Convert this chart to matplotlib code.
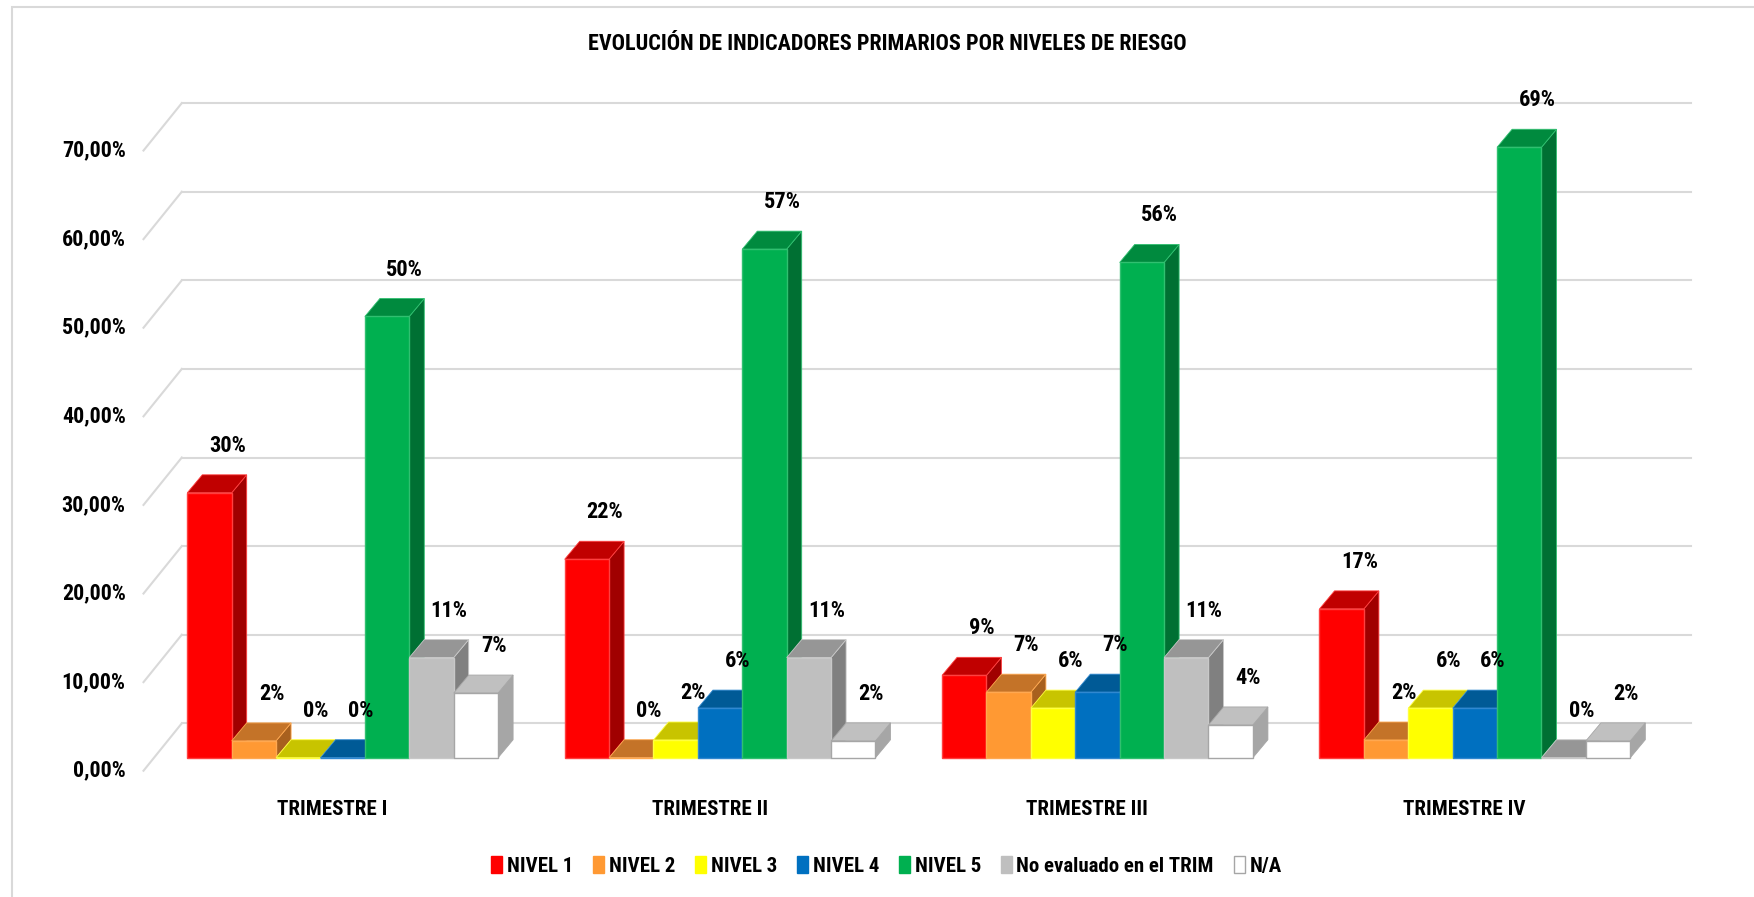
import matplotlib
matplotlib.use('Agg')
import matplotlib.pyplot as plt
from matplotlib.patches import Polygon, Patch, Rectangle
from matplotlib import font_manager

# chart data (percent)
categories = ['TRIMESTRE I', 'TRIMESTRE II', 'TRIMESTRE III', 'TRIMESTRE IV']
series = ['NIVEL 1', 'NIVEL 2', 'NIVEL 3', 'NIVEL 4', 'NIVEL 5',
          'No evaluado en el TRIM', 'N/A']
nivel_1     = [29.9, 22.4, 9.3, 16.8]
nivel_2     = [1.9, 0.0, 7.4, 2.0]
nivel_3     = [0.0, 2.0, 5.6, 5.6]
nivel_4     = [0.0, 5.6, 7.4, 5.6]
nivel_5     = [49.8, 57.4, 55.9, 68.9]
no_evaluado = [11.3, 11.3, 11.3, 0.0]
n_a         = [7.3, 1.9, 3.7, 1.9]
values = [nivel_1, nivel_2, nivel_3, nivel_4, nivel_5, no_evaluado, n_a]
y_ticks = [0, 10, 20, 30, 40, 50, 60, 70]
title = 'EVOLUCIÓN DE INDICADORES PRIMARIOS POR NIVELES DE RIESGO'

# (front, top, side, edge) per series
colors = [
    ('#FF0000', '#C00000', '#A00000', '#FF4040'),
    ('#FF9933', '#C47328', '#A8601E', '#FFA850'),
    ('#FFFF00', '#C8C400', '#A8A400', '#FFFF40'),
    ('#0070C0', '#005A96', '#004C80', '#3088D0'),
    ('#00B050', '#008A3E', '#007033', '#30C070'),
    ('#BFBFBF', '#969696', '#808080', '#C8C8C8'),
    ('#FFFFFF', '#C0C0C0', '#A6A6A6', '#A6A6A6'),
]
grid_color = '#D9D9D9'

# oblique "3D" geometry, in data units (x: bar widths, y: percent)
group_step = 8.5
bar_depth = (0.338, 2.03)
front_off = (-0.236, -1.47)
back_off = (0.626, 3.88)
wall_l, wall_r = -0.75, 33.25

# font: prefer a condensed family
names = {f.name for f in font_manager.fontManager.ttflist}
family = 'DejaVu Sans'
for cand in ['Liberation Sans Narrow', 'DejaVu Sans Condensed', 'Roboto Condensed',
             'Open Sans Condensed', 'Noto Sans Condensed', 'Liberation Sans']:
    if cand in names:
        family = cand
        break
plt.rcParams['font.family'] = [family, 'DejaVu Sans']
plt.rcParams['font.weight'] = 'bold'

fig = plt.figure(figsize=(17.54, 8.97), dpi=100)
renderer = fig.canvas.get_renderer()


def fit(txt, width_px):
    t = fig.text(0, 0, txt, fontsize=20, fontweight='bold')
    w = t.get_window_extent(renderer=renderer).width
    t.remove()
    return 20 * width_px / w


# the reference font is narrower, so sizes are nudged up a little past the width fit
fs_title = fit(title, 587) * 1.02
fs_tick = fit('70,00%', 59) * 1.08
fs_cat = fit('TRIMESTRE I', 96) * 1.15
fs_leg = fit('No evaluado en el TRIM', 188) * 1.05
fs_lab = fit('30%', 32) * 1.15

ax = fig.add_axes([0, 0, 1, 1])
ax.set_xlim(-4.218, 35.286)
ax.set_ylim(-15.72, 85.52)
ax.axis('off')

# walls: diagonal on the left side wall + gridlines on the back wall
for v in y_ticks:
    ax.plot([wall_l + front_off[0], wall_l + back_off[0]],
            [v + front_off[1], v + back_off[1]], color=grid_color, lw=1.5, zorder=1)
    ax.plot([wall_l + back_off[0], wall_r + back_off[0]],
            [v + back_off[1]] * 2, color=grid_color, lw=1.5, zorder=1)
    ax.text(wall_l + front_off[0] - 0.4, v + front_off[1],
            f'{v:.2f}%'.replace('.', ','), ha='right', va='center',
            fontsize=fs_tick, fontweight='bold')

dx, dy = bar_depth
z = 10
for i, cat in enumerate(categories):
    for j, vals in enumerate(values):
        h = vals[i]
        front, top, side, edge = colors[j]
        x0 = i * group_step + j
        ax.add_patch(Polygon([(x0 + 1, 0), (x0 + 1 + dx, dy), (x0 + 1 + dx, h + dy), (x0 + 1, h)],
                             closed=True, facecolor=side, edgecolor=edge, lw=0.6, zorder=z))
        ax.add_patch(Polygon([(x0, h), (x0 + 1, h), (x0 + 1 + dx, h + dy), (x0 + dx, h + dy)],
                             closed=True, facecolor=top, edgecolor=edge, lw=0.6, zorder=z + 1))
        ax.bar(x0, h, width=1, align='edge', color=front, edgecolor=edge,
               linewidth=1.0, zorder=z + 2)
        ax.text(x0 + 0.5 + 0.4, h + 5.3, f'{round(h)}%', ha='center', va='center',
                fontsize=fs_lab, fontweight='bold', zorder=200)
        z += 3
    ax.text(i * group_step + 3.5 + front_off[0], front_off[1] - 4.43, cat,
            ha='center', va='center', fontsize=fs_cat, fontweight='bold')

fig.text(887 / 1754, 1 - 44 / 897, title, ha='center', va='center',
         fontsize=fs_title, fontweight='bold')

# legend
fpx = fs_leg * 100 / 72
handles = [Patch(facecolor=c[0], edgecolor=(c[3] if c[0] == '#FFFFFF' else c[0]), lw=1)
           for c in colors]
fig.legend(handles, series, loc='center', bbox_to_anchor=(886.5 / 1754, 1 - 866 / 897),
           ncol=7, frameon=False, fontsize=fs_leg, handlelength=11 / fpx,
           handleheight=17 / fpx, handletextpad=4.6 / fpx, columnspacing=20 / fpx)

# chart border (left/top visible)
fig.add_artist(Rectangle((12 / 1754, -0.05), 1.0, 1.05 - 7 / 897, transform=fig.transFigure,
                         fill=False, edgecolor='#D9D9D9', lw=1.5))

fig.savefig('out.png', dpi=100)
